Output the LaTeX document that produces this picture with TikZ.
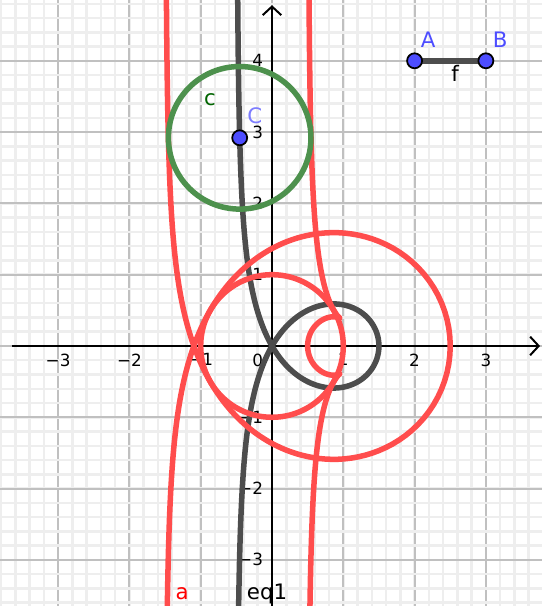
\documentclass[tikz,border=0pt]{standalone}
\usepackage{fontspec}
\setmainfont{DejaVu Sans}
\usetikzlibrary{arrows.meta}
\definecolor{curveR}{RGB}{255,77,77}
\definecolor{curveK}{RGB}{77,77,77}
\definecolor{circG}{RGB}{77,145,77}
\definecolor{ptBlue}{RGB}{77,77,255}
\definecolor{lblC}{RGB}{125,125,255}
\definecolor{lblG}{RGB}{0,100,0}
\definecolor{gridMin}{RGB}{238,238,238}
\definecolor{gridMaj}{RGB}{192,192,192}

\begin{document}
\begin{tikzpicture}[
  minor/.style={gridMin, line width=1pt},
  major/.style={gridMaj, line width=0.8pt},
  axis/.style={black, line width=0.8pt, -{Straight Barb[length=1.2mm,width=2.6mm]}},
  tick/.style={font=\fontsize{6.7}{7}\selectfont, inner sep=0pt},
  crv/.style={line width=2.2pt, line join=round},
  pt/.style={circle, draw=black, fill=ptBlue, line width=0.7pt, minimum size=2.1mm, inner sep=0pt},
  lbl/.style={font=\fontsize{8.5}{9}\selectfont, inner sep=0pt},
  declare function={
    sx(\t)=(1.5-0.5*\t*\t)/(1+\t*\t);
    sy(\t)=\t*sx(\t);
    dx(\t)=-4*\t/((1+\t*\t)*(1+\t*\t));
    dy(\t)=sx(\t)+\t*dx(\t);
    nn(\t)=sqrt(dx(\t)*dx(\t)+dy(\t)*dy(\t));
  }]
  \useasboundingbox (-3.815,-3.647) rectangle (3.787,4.853);
  \fill[white] (-3.815,-3.647) rectangle (3.787,4.853);

  \foreach \i in {-19,...,18}
    \draw[minor] (\i/5,-3.647) -- (\i/5,4.853);
  \foreach \i in {-3,...,3}
    \draw[major] (\i,-3.647) -- (\i,4.853);
  \foreach \j in {-18,...,24}
    \draw[minor] (-3.815,\j/5) -- (3.787,\j/5);
  \foreach \j in {-3,...,4}
    \draw[major] (-3.815,\j) -- (3.787,\j);

  \draw[axis] (-3.65,0) -- (3.76,0);
  \draw[axis] (0,-3.647) -- (0,4.78);
  \foreach \i/\s in {-3/−3,-2/−2,-1/−1,1/1,2/2,3/3}
    \node[tick, anchor=north] (tx\i) at (\i,-0.1) {\s};
  \foreach \j/\s in {-3/−3,-2/−2,-1/−1,1/1,2/2,3/3,4/4}
    \node[tick, anchor=east] (ty\j) at (-0.12,\j) {\s};
  \node[tick, anchor=north east] (t0) at (-0.12,-0.1) {0};

  \begin{scope}
    \clip (-3.815,-3.647) rectangle (3.787,4.853);
    \draw[crv, curveK] plot[domain=-10.5:10.5, samples=701, variable=\t]
      ({sx(\t)}, {sy(\t)});
    \draw[crv, curveR] plot[domain=-10.5:10.5, samples=701, variable=\t]
      ({sx(\t)-dy(\t)/nn(\t)}, {sy(\t)+dx(\t)/nn(\t)});
    \draw[crv, curveR] plot[domain=-10.5:10.5, samples=701, variable=\t]
      ({sx(\t)+dy(\t)/nn(\t)}, {sy(\t)-dx(\t)/nn(\t)});
    \draw[crv, curveR] (0,0) circle (1);
  \end{scope}

  \coordinate (C) at (-0.453,2.92);
  \draw[crv, circG] (C) circle (1);

  \coordinate (A) at (2,4);
  \coordinate (B) at (3,4);
  \draw[crv, curveK] (A) -- (B);
  \node[pt] (ptA) at (A) {};
  \node[pt] (ptB) at (B) {};
  \node[pt] (ptC) at (C) {};

  \node[lbl, ptBlue] (labA) at (2.19,4.29) {A};
  \node[lbl, ptBlue] (labB) at (3.2,4.29) {B};
  \node[lbl, lblC] (labC) at (-0.24,3.23) {C};
  \node[lbl] (labf) at (2.57,3.82) {f};
  \node[lbl, lblG] (labc) at (-0.87,3.46) {c};
  \node[lbl, red] (laba) at (-1.26,-3.48) {a};
  \node[lbl] (labeq) at (-0.07,-3.48) {eq1};
\end{tikzpicture}
\end{document}
